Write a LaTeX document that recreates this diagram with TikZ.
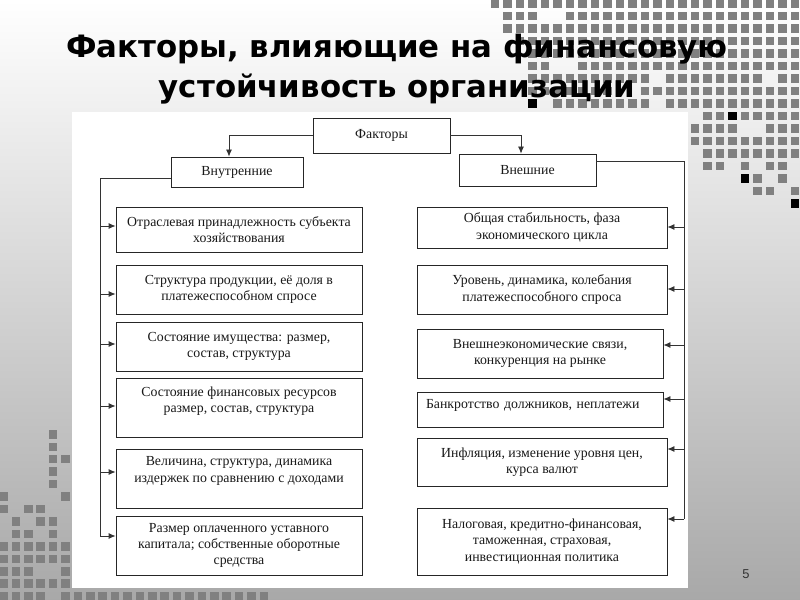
\documentclass[tikz,border=0pt]{standalone}
\usepackage{fontspec}
\setmainfont{Liberation Serif}
\newfontfamily\ttlfont{DejaVu Sans}
\newfontfamily\numfont{Liberation Sans}
\usetikzlibrary{arrows.meta}
\newcommand\dn[1]{\rule[-#1]{0pt}{#1}}

\begin{document}
\begin{tikzpicture}[x=0.3mm,y=-0.3mm,
  box/.style={draw=black!85,line width=0.7pt,fill=white,align=center,inner sep=0pt,
    font=\fontsize{11.8}{14}\selectfont,text=black!90},
  lbox/.style={box,minimum width=73.8mm},
  rbox/.style={box,minimum width=75mm},
  line/.style={draw=black!80,line width=0.7pt},
  arr/.style={line,-{Latex[length=2.1mm,width=1.8mm]}},
  sq/.style={fill=black!50},
  ttl/.style={font=\ttlfont\bfseries\fontsize{26.3}{32}\selectfont,anchor=base}]
\useasboundingbox (0,0) rectangle (800,600);
\shade[top color=white,middle color=black!9,bottom color=black!34] (0,0) rectangle (800,600);
\foreach \j/\ks in {0/{0,1,...,24},1/{1,2,3,6,7,...,24},2/{1,2,...,24},3/{2,3,...,24},4/{3,4,...,24},
  5/{3,4,7,8,...,24},6/{3,4,...,12,14,15,...,21,23,24},7/{3,4,...,9,12,13,...,24},8/{5,6,...,12,14,15,...,24},
  9/{17,18,20,21,...,24},10/{16,17,18,19,22,23,24},11/{16,17,...,24},12/{17,18,...,24},
  13/{17,18,20,22,23},14/{21,23},15/{21,22,24}}
{
  \foreach \k in \ks {\fill[sq] ({495+12.5*\k-4.25},{3.5+12.5*\j-4.25}) rectangle +(8.5,8.5);}
}
\foreach \k/\j in {3/8,19/9,20/14,24/16}
  \fill ({495+12.5*\k-4.25},{3.5+12.5*\j-4.25}) rectangle +(8.5,8.5);
\foreach \n/\ms in {0/{4},1/{4},2/{4,5},3/{4},4/{4},5/{0,5},6/{0,2,3},7/{1,3,4},8/{1,2,4},
  9/{0,1,...,5},10/{0,1,...,5},11/{0,1,2,5},12/{0,1,...,5},13/{0,1,2,3,5,6,...,21}}
{
  \foreach \m in \ms {\fill[sq] ({3.5+12.4*\m-4.25},{434.3+12.45*\n-4.25}) rectangle +(8.5,8.5);}
}
\fill[white] (72,112) rectangle (688,588);
\node[ttl] (ttl1) at (397,58) {Факторы, влияющие на финансовую};
\node[ttl] (ttl2) at (397,98) {устойчивость организации};
\node[font=\numfont\fontsize{11}{13}\selectfont,text=black!80] (num) at (746,574) {5};

\node[box,minimum width=41.1mm,minimum height=10.5mm] (fk) at (381.5,135.5) {Факторы};
\node[box,minimum width=39.6mm,minimum height=9mm] (vn) at (237,172) {Внутренние};
\node[box,minimum width=41.1mm,minimum height=9.6mm] (vs) at (527.5,170) {Внешние};

\node[lbox,minimum height=13.5mm] (in1) at (239,229.5) {Отраслевая принадлежность субъекта\\хозяйствования};
\node[lbox,minimum height=14.7mm] (in2) at (239,289.5) {Структура продукции, её доля в\\платежеспособном спросе};
\node[lbox,minimum height=14.7mm] (in3) at (239,346.5) {Состояние имущества: размер,\\состав, структура};
\node[lbox,minimum height=17.7mm] (in4) at (239,407.5) {Состояние финансовых ресурсов\\размер, состав, структура\dn{4.7mm}};
\node[lbox,minimum height=17.7mm] (in5) at (239,478.5) {Величина, структура, динамика\\издержек по сравнению с доходами\dn{5.3mm}};
\node[lbox,minimum height=17.7mm] (in6) at (239,545.5) {Размер оплаченного уставного\\капитала; собственные оборотные\\средства};

\node[rbox,minimum height=12.3mm] (ex1) at (542,227.5) {Общая стабильность, фаза\\экономического цикла};
\node[rbox,minimum height=14.7mm] (ex2) at (542,289.5) {Уровень, динамика, колебания\\платежеспособного спроса};
\node[rbox,minimum width=73.8mm,minimum height=14.7mm] (ex3) at (540,353.5) {Внешнеэкономические связи,\\конкуренция на рынке};
\node[rbox,minimum width=73.8mm,minimum height=10.5mm,align=left,inner xsep=2.7mm,text width=68.4mm] (ex4) at (540,409.5) {Банкротство должников, неплатежи\dn{3.5mm}};
\node[rbox,minimum height=14.4mm] (ex5) at (542,462) {Инфляция, изменение уровня цен,\\курса валют};
\node[rbox,minimum height=20.1mm] (ex6) at (542,541.5) {Налоговая, кредитно-финансовая,\\таможенная, страховая,\\инвестиционная политика};

\coordinate (lbus) at (100,536);
\coordinate (rbus) at (684,519);
\draw[line] ([yshift=-1.8mm]vn.west) -| (lbus);
\draw[line] ([yshift=2.7mm]vs.east) -| (rbus);
\draw[arr] (fk.west) -| ([xshift=-2.4mm]vn.north);
\draw[arr] (fk.east) -| ([xshift=-1.95mm]vs.north);
\foreach \n/\y in {in1/226,in2/294,in3/344,in4/406,in5/472,in6/536}
  \draw[arr] (lbus |- 0,\y) -- (\n.west |- 0,\y);
\foreach \n/\y in {ex1/227,ex2/289,ex3/345,ex4/399,ex5/449,ex6/519}
  \draw[arr] (rbus |- 0,\y) -- (\n.east |- 0,\y);
\end{tikzpicture}
\end{document}
